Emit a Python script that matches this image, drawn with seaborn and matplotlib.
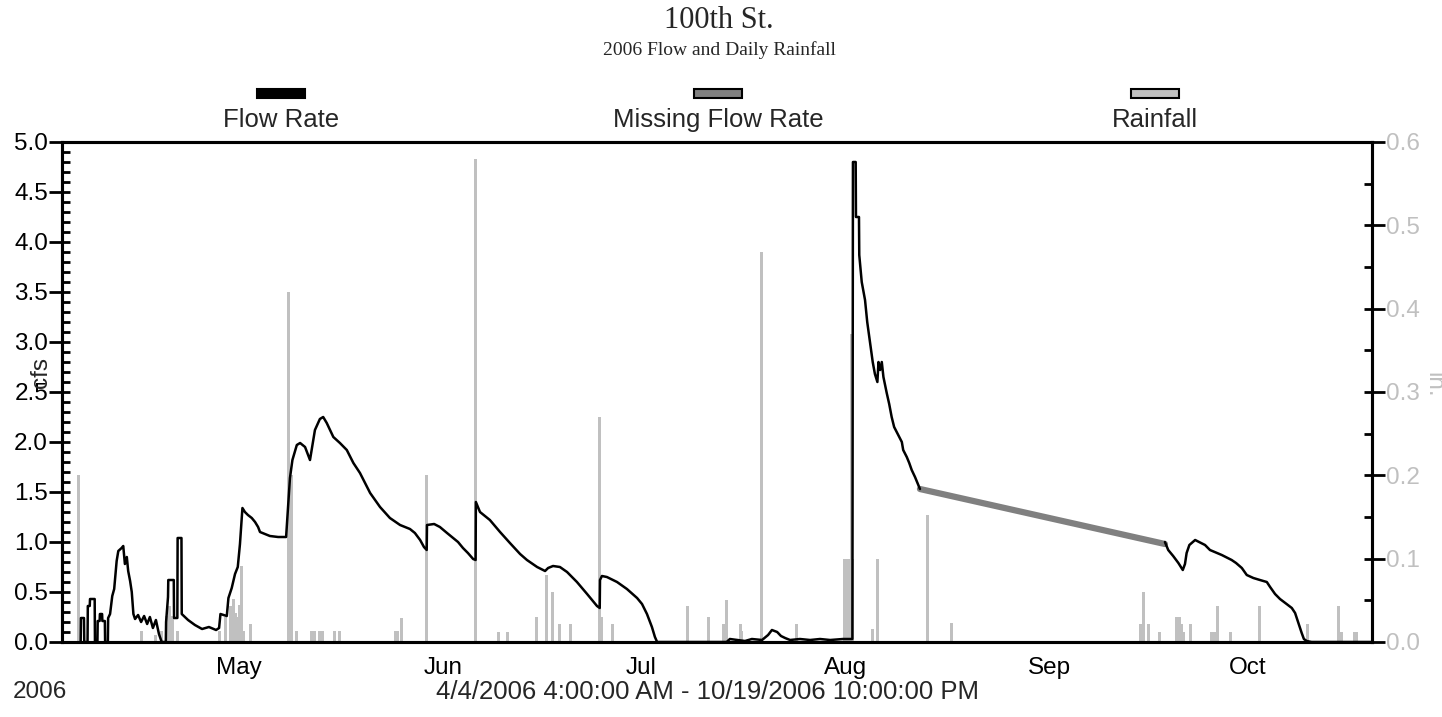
import matplotlib
matplotlib.use("Agg")
import matplotlib.pyplot as plt
import matplotlib.dates as mdates
from matplotlib.patches import Rectangle
from matplotlib.ticker import MultipleLocator, FormatStrFormatter
import pandas as pd
import seaborn as sns

# ---- measured flow (cfs) ----
flow_times = [
    "2006-04-07 00:00", "2006-04-07 01:00", "2006-04-07 12:00", "2006-04-07 13:00",
    "2006-04-08 01:00", "2006-04-08 02:00", "2006-04-08 09:00", "2006-04-08 10:00",
    "2006-04-09 03:00", "2006-04-09 04:00", "2006-04-09 13:00", "2006-04-09 14:00",
    "2006-04-09 21:00", "2006-04-09 22:00", "2006-04-10 06:00", "2006-04-10 07:00",
    "2006-04-10 16:00", "2006-04-10 17:00", "2006-04-11 03:00", "2006-04-11 04:00",
    "2006-04-11 11:00", "2006-04-11 19:00", "2006-04-12 02:00", "2006-04-12 11:00",
    "2006-04-12 17:00", "2006-04-13 05:00", "2006-04-13 11:00", "2006-04-13 17:00",
    "2006-04-14 00:00", "2006-04-14 05:00", "2006-04-14 12:00", "2006-04-14 18:00",
    "2006-04-15 00:00", "2006-04-15 06:00", "2006-04-15 17:00", "2006-04-16 04:00",
    "2006-04-16 15:00", "2006-04-17 02:00", "2006-04-17 12:00", "2006-04-17 23:00",
    "2006-04-18 10:00", "2006-04-18 21:00", "2006-04-19 07:00", "2006-04-19 22:00",
    "2006-04-19 23:00", "2006-04-20 06:00", "2006-04-20 07:00", "2006-04-21 03:00",
    "2006-04-21 04:00", "2006-04-21 16:00", "2006-04-21 17:00", "2006-04-22 07:00",
    "2006-04-22 08:00", "2006-04-23 07:00", "2006-04-24 08:00", "2006-04-25 10:00",
    "2006-04-26 11:00", "2006-04-27 13:00", "2006-04-28 00:00", "2006-04-28 05:00",
    "2006-04-29 04:00", "2006-04-29 10:00", "2006-04-29 22:00", "2006-04-30 10:00",
    "2006-04-30 20:00", "2006-05-01 04:00", "2006-05-01 10:00", "2006-05-01 13:00",
    "2006-05-01 22:00", "2006-05-02 09:00", "2006-05-02 23:00", "2006-05-03 11:00",
    "2006-05-03 22:00", "2006-05-04 05:00", "2006-05-04 23:00", "2006-05-05 17:00",
    "2006-05-06 23:00", "2006-05-08 04:00", "2006-05-08 18:00", "2006-05-09 03:00",
    "2006-05-09 19:00", "2006-05-10 07:00", "2006-05-11 01:00", "2006-05-11 19:00",
    "2006-05-12 13:00", "2006-05-13 07:00", "2006-05-13 19:00", "2006-05-14 08:00",
    "2006-05-15 08:00", "2006-05-16 08:00", "2006-05-17 09:00", "2006-05-18 09:00",
    "2006-05-19 09:00", "2006-05-20 22:00", "2006-05-22 10:00", "2006-05-23 22:00",
    "2006-05-25 11:00", "2006-05-26 23:00", "2006-05-27 17:00", "2006-05-28 12:00",
    "2006-05-29 02:00", "2006-05-29 12:00", "2006-05-29 13:00", "2006-05-30 15:00",
    "2006-05-31 12:00", "2006-06-01 14:00", "2006-06-02 08:00", "2006-06-03 06:00",
    "2006-06-04 00:00", "2006-06-04 18:00", "2006-06-05 13:00", "2006-06-05 22:00",
    "2006-06-05 23:00", "2006-06-06 14:00", "2006-06-08 02:00", "2006-06-09 15:00",
    "2006-06-11 03:00", "2006-06-12 16:00", "2006-06-13 17:00", "2006-06-15 06:00",
    "2006-06-16 11:00", "2006-06-16 22:00", "2006-06-17 16:00", "2006-06-18 17:00",
    "2006-06-19 19:00", "2006-06-21 07:00", "2006-06-22 20:00", "2006-06-24 08:00",
    "2006-06-24 18:00", "2006-06-24 19:00", "2006-06-25 02:00", "2006-06-25 20:00",
    "2006-06-27 09:00", "2006-06-28 21:00", "2006-06-30 10:00", "2006-07-01 04:00",
    "2006-07-01 22:00", "2006-07-02 16:00", "2006-07-03 03:00", "2006-07-03 11:00",
    "2006-07-14 00:00", "2006-07-14 12:00", "2006-07-16 19:00", "2006-07-17 20:00",
    "2006-07-19 09:00", "2006-07-20 07:00", "2006-07-20 21:00", "2006-07-21 16:00",
    "2006-07-22 06:00", "2006-07-22 21:00", "2006-07-23 15:00", "2006-07-25 03:00",
    "2006-07-26 16:00", "2006-07-28 04:00", "2006-07-29 17:00", "2006-07-31 16:00",
    "2006-08-02 02:00", "2006-08-02 03:00", "2006-08-02 04:00", "2006-08-02 14:00",
    "2006-08-02 15:00", "2006-08-03 02:00", "2006-08-03 03:00", "2006-08-03 12:00",
    "2006-08-04 00:00", "2006-08-04 08:00", "2006-08-04 18:00", "2006-08-05 04:00",
    "2006-08-05 12:00", "2006-08-05 21:00", "2006-08-06 01:00", "2006-08-06 07:00",
    "2006-08-06 13:00", "2006-08-06 19:00", "2006-08-07 07:00", "2006-08-07 16:00",
    "2006-08-08 01:00", "2006-08-08 10:00", "2006-08-09 01:00", "2006-08-09 14:00",
    "2006-08-09 19:00", "2006-08-10 08:00", "2006-08-10 17:00", "2006-08-11 02:00",
    "2006-08-11 14:00", "2006-08-12 02:00", "2006-08-12 08:00",
]
flow_cfs = [
    0.00, 0.24, 0.24, 0.00,
    0.00, 0.36, 0.36, 0.43,
    0.43, 0.00, 0.00, 0.21,
    0.21, 0.28, 0.28, 0.21,
    0.21, 0.00, 0.00, 0.24,
    0.28, 0.46, 0.53, 0.81,
    0.91, 0.94, 0.96, 0.78,
    0.85, 0.71, 0.61, 0.50,
    0.28, 0.23, 0.27, 0.20,
    0.26, 0.18, 0.25, 0.14,
    0.22, 0.08, 0.00, 0.00,
    0.20, 0.45, 0.62, 0.62,
    0.24, 0.24, 1.04, 1.04,
    0.28, 0.22, 0.17, 0.13,
    0.15, 0.12, 0.14, 0.28,
    0.26, 0.44, 0.54, 0.68,
    0.75, 0.98, 1.22, 1.34,
    1.30, 1.27, 1.24, 1.20,
    1.15, 1.10, 1.08, 1.06,
    1.05, 1.05, 1.64, 1.82,
    1.97, 1.99, 1.95, 1.82,
    2.12, 2.23, 2.25, 2.19,
    2.05, 1.99, 1.92, 1.79,
    1.69, 1.49, 1.35, 1.24,
    1.17, 1.13, 1.09, 1.02,
    0.95, 0.92, 1.17, 1.18,
    1.15, 1.09, 1.05, 1.00,
    0.94, 0.89, 0.83, 0.82,
    1.40, 1.30, 1.22, 1.10,
    0.99, 0.88, 0.82, 0.75,
    0.71, 0.74, 0.76, 0.75,
    0.70, 0.60, 0.48, 0.36,
    0.34, 0.62, 0.66, 0.65,
    0.60, 0.53, 0.44, 0.38,
    0.28, 0.15, 0.05, 0.00,
    0.00, 0.03, 0.01, 0.03,
    0.02, 0.07, 0.12, 0.10,
    0.06, 0.04, 0.02, 0.03,
    0.02, 0.03, 0.02, 0.03,
    0.03, 3.00, 4.80, 4.80,
    4.25, 4.25, 3.87, 3.60,
    3.42, 3.20, 3.00, 2.80,
    2.68, 2.60, 2.80, 2.72,
    2.80, 2.65, 2.49, 2.38,
    2.25, 2.15, 2.07, 2.00,
    1.92, 1.85, 1.79, 1.72,
    1.65, 1.57, 1.53,
]

# flow after the gap in the record
flow2_times = [
    "2006-09-18 12:00", "2006-09-19 00:00", "2006-09-19 18:00", "2006-09-20 13:00",
    "2006-09-21 05:00", "2006-09-21 13:00", "2006-09-21 19:00", "2006-09-22 05:00",
    "2006-09-23 02:00", "2006-09-24 14:00", "2006-09-25 08:00", "2006-09-27 03:00",
    "2006-09-28 15:00", "2006-09-29 07:00", "2006-09-30 04:00", "2006-09-30 22:00",
    "2006-10-01 22:00", "2006-10-02 22:00", "2006-10-03 23:00", "2006-10-04 11:00",
    "2006-10-05 05:00", "2006-10-05 23:00", "2006-10-06 23:00", "2006-10-07 18:00",
    "2006-10-08 06:00", "2006-10-08 18:00", "2006-10-09 06:00", "2006-10-09 14:00",
    "2006-10-10 00:00", "2006-10-10 18:00", "2006-10-19 22:00",
]
flow2_cfs = [
    1.00, 0.92, 0.86, 0.79,
    0.72, 0.78, 0.89, 0.97,
    1.02, 0.97, 0.92, 0.87,
    0.82, 0.79, 0.74, 0.67,
    0.64, 0.62, 0.60, 0.55,
    0.48, 0.43, 0.38, 0.34,
    0.29, 0.19, 0.09, 0.03,
    0.01, 0.00, 0.00,
]

# estimated flow across the missing record
missing_times = ["2006-08-12 08:00", "2006-09-18 12:00"]
missing_cfs = [1.53, 0.98]

# ---- rainfall (in.) ----
rain_times = [
    "2006-04-06 15:00", "2006-04-16 06:00", "2006-04-18 07:00", "2006-04-19 07:00",
    "2006-04-20 02:00", "2006-04-20 13:00", "2006-04-21 00:00", "2006-04-21 18:00",
    "2006-04-28 03:00", "2006-04-29 01:00", "2006-04-29 16:00", "2006-04-30 03:00",
    "2006-04-30 10:00", "2006-04-30 17:00", "2006-05-01 04:00", "2006-05-01 11:00",
    "2006-05-01 17:00", "2006-05-02 17:00", "2006-05-08 12:00", "2006-05-09 00:00",
    "2006-05-09 19:00", "2006-05-11 23:00", "2006-05-12 13:00", "2006-05-13 04:00",
    "2006-05-13 18:00", "2006-05-15 12:00", "2006-05-16 08:00", "2006-05-24 17:00",
    "2006-05-25 03:00", "2006-05-25 17:00", "2006-05-29 12:00", "2006-06-05 22:00",
    "2006-06-09 11:00", "2006-06-10 19:00", "2006-06-15 05:00", "2006-06-16 17:00",
    "2006-06-17 13:00", "2006-06-18 17:00", "2006-06-20 06:00", "2006-06-24 17:00",
    "2006-06-25 02:00", "2006-06-26 17:00", "2006-07-08 01:00", "2006-07-11 05:00",
    "2006-07-13 14:00", "2006-07-14 00:00", "2006-07-16 01:00", "2006-07-16 08:00",
    "2006-07-19 06:00", "2006-07-24 13:00", "2006-07-31 23:00", "2006-08-01 06:00",
    "2006-08-01 14:00", "2006-08-01 21:00", "2006-08-02 04:00", "2006-08-05 04:00",
    "2006-08-05 21:00", "2006-08-13 12:00", "2006-08-17 04:00", "2006-09-14 18:00",
    "2006-09-15 06:00", "2006-09-16 00:00", "2006-09-17 16:00", "2006-09-20 06:00",
    "2006-09-20 17:00", "2006-09-21 00:00", "2006-09-21 07:00", "2006-09-22 10:00",
    "2006-09-25 13:00", "2006-09-26 00:00", "2006-09-26 11:00", "2006-09-28 12:00",
    "2006-10-02 20:00", "2006-10-10 03:00", "2006-10-14 20:00", "2006-10-15 07:00",
    "2006-10-17 06:00", "2006-10-17 13:00",
]
rain_in = [
    0.200, 0.013, 0.008, 0.013,
    0.031, 0.043, 0.031, 0.013,
    0.013, 0.030, 0.043, 0.052,
    0.035, 0.030, 0.045, 0.091,
    0.013, 0.022, 0.420, 0.200,
    0.013, 0.013, 0.013, 0.013,
    0.013, 0.013, 0.013, 0.013,
    0.013, 0.029, 0.200, 0.580,
    0.012, 0.012, 0.030, 0.081,
    0.060, 0.022, 0.022, 0.270,
    0.030, 0.022, 0.043, 0.030,
    0.022, 0.051, 0.022, 0.013,
    0.468, 0.022, 0.100, 0.100,
    0.100, 0.370, 0.100, 0.016,
    0.100, 0.152, 0.023, 0.022,
    0.060, 0.022, 0.012, 0.030,
    0.030, 0.022, 0.012, 0.022,
    0.012, 0.012, 0.043, 0.012,
    0.043, 0.022, 0.043, 0.012,
    0.012, 0.012,
]

period_start = "2006-04-04 04:00"
period_end = "2006-10-19 22:00"

FLOW_COLOR = "black"
MISSING_COLOR = "#808080"
RAIN_COLOR = "#c0c0c0"

TICK_SIZE = 17.5
LABEL_SIZE = 18.5

sns.set_theme(style="white")
plt.rcParams["font.family"] = ["Liberation Sans", "DejaVu Sans"]

W, H = 1442, 717
fig = plt.figure(figsize=(W / 100, H / 100), dpi=100)
ax = fig.add_axes([62 / W, 1 - 642 / H, 1310 / W, 500 / H])
ax2 = ax.twinx()
ax.set_zorder(ax2.get_zorder() + 1)
ax.patch.set_visible(False)

flow = pd.DataFrame({"time": pd.to_datetime(flow_times), "cfs": flow_cfs})
flow2 = pd.DataFrame({"time": pd.to_datetime(flow2_times), "cfs": flow2_cfs})
missing = pd.DataFrame({"time": pd.to_datetime(missing_times), "cfs": missing_cfs})
rain = pd.DataFrame({"time": pd.to_datetime(rain_times), "rain": rain_in})

# rainfall bars on the right axis
ax2.bar(rain["time"], rain["rain"], width=0.45, color=RAIN_COLOR, linewidth=0)

# flow lines on the left axis
sns.lineplot(data=missing, x="time", y="cfs", ax=ax, color=MISSING_COLOR,
             linewidth=4.5, estimator=None, legend=False)
sns.lineplot(data=flow, x="time", y="cfs", ax=ax, color=FLOW_COLOR,
             linewidth=1.8, estimator=None, legend=False)
sns.lineplot(data=flow2, x="time", y="cfs", ax=ax, color=FLOW_COLOR,
             linewidth=1.8, estimator=None, legend=False)

ax.set_xlim(pd.Timestamp(period_start), pd.Timestamp(period_end))
ax.set_ylim(0, 5)
ax2.set_ylim(0, 0.6)
ax.set_xlabel("")
ax.set_ylabel("")
ax2.set_ylabel("")

# x axis: months with ticks on the 8th, 15th and 22nd
ax.xaxis.set_major_locator(mdates.MonthLocator())
ax.xaxis.set_major_formatter(mdates.DateFormatter("%b"))
ax.xaxis.set_minor_locator(mdates.DayLocator(bymonthday=[8, 15, 22]))
ax.tick_params(axis="x", which="major", direction="inout", length=21, width=2,
               pad=0, labelsize=TICK_SIZE, colors="black")
ax.tick_params(axis="x", which="minor", direction="in", length=6, width=2,
               colors="black")

# left axis
ax.yaxis.set_major_locator(MultipleLocator(0.5))
ax.yaxis.set_minor_locator(MultipleLocator(0.1))
ax.yaxis.remove_overlapping_locs = False
ax.yaxis.set_major_formatter(FormatStrFormatter("%.1f"))
ax.tick_params(axis="y", which="major", direction="out", length=9.5, width=2,
               pad=0.5, labelsize=TICK_SIZE, colors="black")
ax.tick_params(axis="y", which="minor", direction="in", length=6, width=2,
               colors="black")

# right axis
ax2.yaxis.set_major_locator(MultipleLocator(0.1))
ax2.yaxis.set_minor_locator(MultipleLocator(0.05))
ax2.yaxis.remove_overlapping_locs = False
ax2.yaxis.set_major_formatter(FormatStrFormatter("%.1f"))
ax2.tick_params(axis="y", which="major", direction="out", length=9.5, width=2,
                pad=0.5, labelsize=TICK_SIZE, color="black", labelcolor=RAIN_COLOR)
ax2.tick_params(axis="y", which="minor", direction="in", length=6, width=2,
                color="black")

for a in (ax, ax2):
    for s in a.spines.values():
        s.set_visible(True)
        s.set_color("black")
        s.set_linewidth(2.2)

# axis titles
fig.text(41 / W, 1 - 372 / H, "cfs", rotation=90, ha="center", va="center",
         fontsize=TICK_SIZE)
fig.text(1433 / W, 1 - 385 / H, "in.", rotation=-90, ha="center", va="center",
         fontsize=TICK_SIZE, color=RAIN_COLOR)

# titles
fig.text(719 / W, 1 - 20 / H, "100th St.", ha="center", va="center",
         fontsize=22, family="Liberation Serif")
fig.text(719 / W, 1 - 50 / H, "2006 Flow and Daily Rainfall", ha="center",
         va="center", fontsize=14, family="Liberation Serif")

# legend: swatch above each label
legend_items = [
    ("Flow Rate", FLOW_COLOR, 281),
    ("Missing Flow Rate", MISSING_COLOR, 718),
    ("Rainfall", RAIN_COLOR, 1155),
]
for label, color, cx in legend_items:
    fig.add_artist(Rectangle(((cx - 24) / W, 1 - 98 / H), 48 / W, 9 / H,
                             transform=fig.transFigure, facecolor=color,
                             edgecolor="black", linewidth=1.5))
    fig.text(cx / W, 1 - 120 / H, label, ha="center", va="center",
             fontsize=LABEL_SIZE)

# period footer
fig.text(40 / W, 1 - 692 / H, "2006", ha="center", va="center",
         fontsize=TICK_SIZE)
fig.text(708 / W, 1 - 692 / H, "4/4/2006 4:00:00 AM - 10/19/2006 10:00:00 PM",
         ha="center", va="center", fontsize=LABEL_SIZE)

fig.savefig("out.png", dpi=100)
